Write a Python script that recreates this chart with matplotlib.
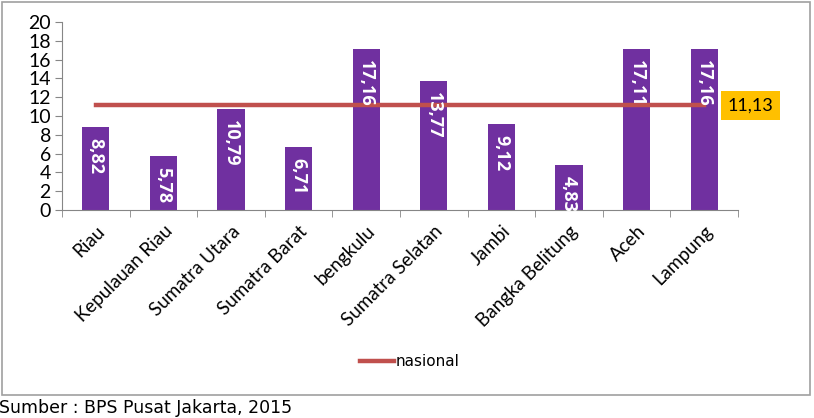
import matplotlib.pyplot as plt
from matplotlib.patches import Rectangle

provinsi = ["Riau", "Kepulauan Riau", "Sumatra Utara", "Sumatra Barat", "bengkulu",
            "Sumatra Selatan", "Jambi", "Bangka Belitung", "Aceh", "Lampung"]
nilai = [8.82, 5.78, 10.79, 6.71, 17.16, 13.77, 9.12, 4.83, 17.11, 17.16]
nasional = [11.13] * len(provinsi)

bar_color = "#7030A0"
line_color = "#C0504D"
axis_color = "#868686"

fig = plt.figure(figsize=(8.14, 4.18), dpi=100)
ax = fig.add_axes([62 / 814, 1 - 210 / 418, (738 - 62) / 814, (210 - 22) / 418])

x = list(range(len(provinsi)))
ax.bar(x, nilai, width=0.4, color=bar_color, zorder=2)
ax.plot(x, nasional, color=line_color, lw=3.2, label="nasional", zorder=3)

# bar labels, rotated, near top inside the bar
for xi, v in zip(x, nilai):
    ax.annotate(f"{v:.2f}".replace(".", ","), (xi, v), xytext=(0, -8),
                textcoords="offset points", rotation=-90, ha="center", va="top",
                color="white", fontsize=13, fontweight="bold", family="Open Sans", zorder=4)

# national value box
ax.annotate(f"{nasional[-1]:.2f}".replace(".", ","), (x[-1], nasional[-1]), xytext=(17, 0),
            textcoords="offset points", ha="left", va="center", fontsize=13,
            family="Lato", annotation_clip=False,
            bbox=dict(boxstyle="square,pad=0.35", facecolor="#FFC000", edgecolor="none"))

ax.set_xlim(-0.5, len(provinsi) - 0.5)
ax.set_ylim(0, 20)
ax.set_yticks(range(0, 21, 2))
ax.set_yticklabels([str(t) for t in range(0, 21, 2)], fontsize=14, family="Lato")
ax.set_xticks(x)
ax.set_xticklabels(provinsi, rotation=45, ha="right", rotation_mode="anchor",
                   fontsize=13.5, family="Lato")
ax.set_xticks([i - 0.5 for i in range(len(provinsi) + 1)], minor=True)
ax.tick_params(axis="x", which="major", length=0, pad=9)
ax.tick_params(axis="x", which="minor", length=5, color=axis_color, direction="out")
ax.tick_params(axis="y", length=5, color=axis_color, direction="out", pad=3)

for s in ["top", "right"]:
    ax.spines[s].set_visible(False)
for s in ["left", "bottom"]:
    ax.spines[s].set_color(axis_color)

fig.legend(loc="center", bbox_to_anchor=(410 / 814, 1 - 362 / 418), frameon=False,
           prop={"family": "DejaVu Sans", "size": 11}, handlelength=2.2, handletextpad=0.1)

# outer chart frame
fig.patches.append(Rectangle((2 / 814, 1 - 395 / 418), 808 / 814, 393 / 418,
                             transform=fig.transFigure, fill=False,
                             edgecolor="#A0A0A0", lw=1.2))

fig.text(-1 / 814, 1 - 408 / 418, "Sumber : BPS Pusat Jakarta, 2015", fontsize=12.5,
         family="DejaVu Sans", va="center", ha="left")

fig.savefig("out.png", dpi=100)
